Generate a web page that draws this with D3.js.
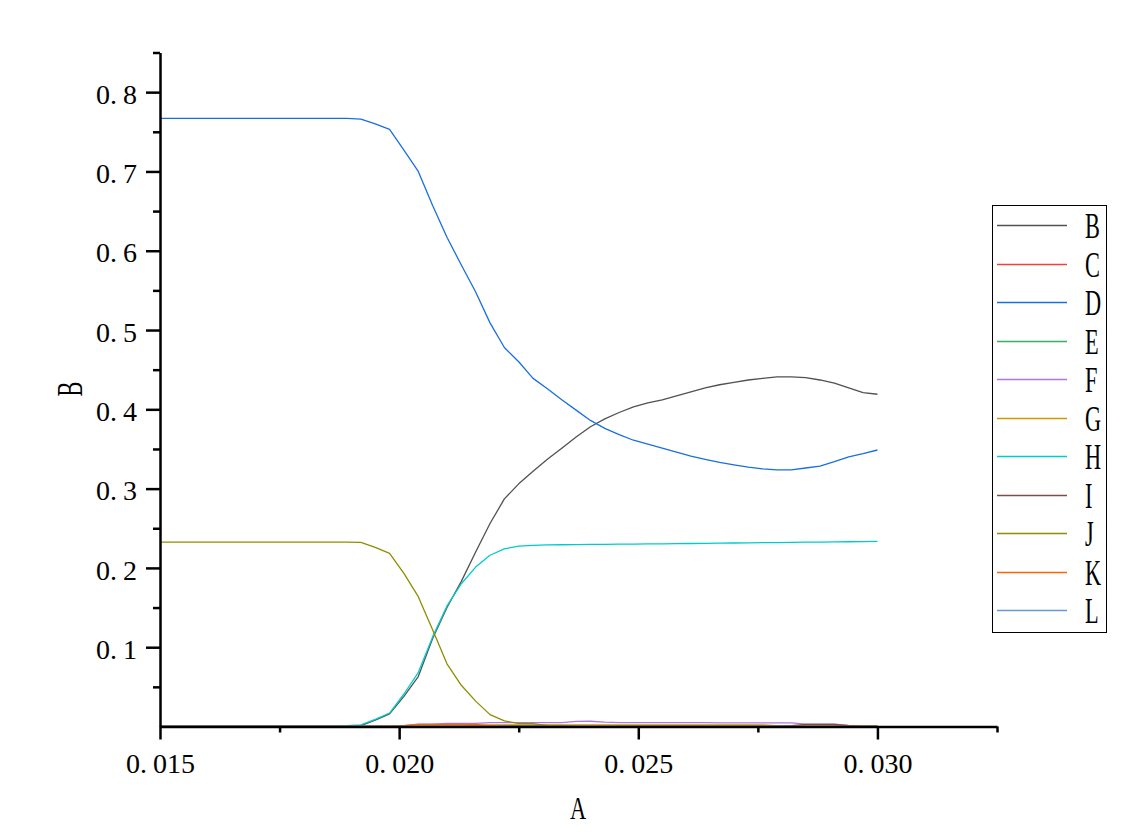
<!DOCTYPE html>
<html><head><meta charset="utf-8">
<script src="https://cdn.jsdelivr.net/npm/d3@7"></script>
<style>body{margin:0;background:#fff} svg{display:block}</style>
</head><body><svg id="c" width="1143" height="837"></svg>
<script>
// ---------------- DATA ----------------
const xValues = [0.0150,0.0153,0.0156,0.0159,0.0162,0.0165,0.0168,0.0171,0.0174,0.0177,
  0.0180,0.0183,0.0186,0.0189,0.0192,0.0195,0.0198,0.0201,0.0204,0.0207,
  0.0210,0.0213,0.0216,0.0219,0.0222,0.0225,0.0228,0.0231,0.0234,0.0237,
  0.0240,0.0243,0.0246,0.0249,0.0252,0.0255,0.0258,0.0261,0.0264,0.0267,
  0.0270,0.0273,0.0276,0.0279,0.0282,0.0285,0.0288,0.0291,0.0294,0.0297,0.0300];

const seriesNames = ["B","C","D","E","F","G","H","I","J","K","L"];
const seriesColors = ["#515151","#F14040","#1A6FDF","#37AD6B","#B177DE","#CC9900","#00CBCC","#7D4E4E","#8E8E00","#FB6501","#6699CC"];

const B = [0,0,0,0,0,0,0,0,0,0,
  0,0,0,0,0.001,0.008,0.016,0.038,0.063,0.111,
  0.150,0.183,0.220,0.256,0.287,0.306,0.322,0.337,0.351,0.365,
  0.378,0.388,0.396,0.403,0.408,0.412,0.417,0.422,0.427,0.431,
  0.434,0.437,0.439,0.441,0.441,0.440,0.437,0.433,0.427,0.421,0.419];
const C = [0,0,0,0,0,0,0,0,0,0, 0,0,0,0,0,0,0,0,0,0, 0,0,0,0,0,0,0,0,0,0,
  0,0,0,0,0,0,0,0,0,0, 0,0,0,0,0,0,0,0,0,0,0];
const D = [0.767,0.767,0.767,0.767,0.767,0.767,0.767,0.767,0.767,0.767,
  0.767,0.767,0.767,0.767,0.766,0.760,0.753,0.727,0.700,0.657,
  0.617,0.582,0.548,0.509,0.478,0.460,0.439,0.426,0.412,0.399,
  0.386,0.376,0.368,0.361,0.356,0.351,0.346,0.341,0.337,0.333,
  0.330,0.327,0.325,0.3237,0.3237,0.326,0.3285,0.334,0.340,0.344,0.3487];
const E = [0,0,0,0,0,0,0,0,0,0, 0,0,0,0,0,0,0,0,0,0,
  0,0,0,0,0.0008,0.0015,0.0015,0.0015,0.0015,0.0005,
  0,0,0,0,0,0,0,0,0,0, 0,0,0,0,0,0,0,0,0,0,0];
const F = [0,0,0,0,0,0,0,0,0,0, 0,0,0,0,0,0,0,0.001,0.003,0.003,
  0.004,0.004,0.004,0.005,0.005,0.005,0.005,0.005,0.005,0.0065,
  0.0066,0.0055,0.005,0.005,0.005,0.005,0.005,0.005,0.005,0.0045,
  0.0045,0.0045,0.0045,0.0045,0.0045,0.003,0.003,0.003,0.0015,0.0005,0];
const G = [0,0,0,0,0,0,0,0,0,0, 0,0,0,0,0,0,0,0,0,0,
  0,0,0.0015,0.002,0.002,0.002,0.002,0.002,0.002,0.002,
  0.002,0.002,0.002,0.002,0.002,0.002,0.002,0.002,0.002,0.002,
  0.002,0.002,0.002,0.001,0,0,0,0,0,0,0];
const H = [0.0005,0.0005,0.0005,0.0005,0.0005,0.0005,0.0005,0.0005,0.0005,0.0005,
  0.0005,0.0005,0.0005,0.001,0.002,0.009,0.017,0.041,0.068,0.113,
  0.152,0.180,0.201,0.216,0.224,0.2275,0.2285,0.229,0.2292,0.2294,
  0.2296,0.2298,0.230,0.230,0.2302,0.2304,0.2306,0.2308,0.231,0.2312,
  0.2314,0.2316,0.2318,0.232,0.2322,0.2324,0.2326,0.2328,0.233,0.2332,0.2334];
const I = [0,0,0,0,0,0,0,0,0,0, 0,0,0,0,0,0,0,0,0,0, 0,0,0,0,0,0,0,0,0,0,
  0,0,0,0,0,0,0,0,0,0, 0,0,0,0,0.001,0.0025,0.0025,0.0025,0.001,0,0];
const J = [0.2325,0.2325,0.2325,0.2325,0.2325,0.2325,0.2325,0.2325,0.2325,0.2325,
  0.2325,0.2325,0.2325,0.2325,0.2323,0.226,0.2184,0.193,0.1637,0.122,
  0.079,0.052,0.032,0.015,0.007,0.004,0.0035,0.001,0,0,
  0,0,0,0,0,0,0,0,0,0, 0,0,0,0,0,0,0,0,0,0,0];
const K = [0,0,0,0,0,0,0,0,0,0, 0,0,0,0,0,0,0,0.0012,0.0025,0.0025,
  0.0025,0.0025,0.0025,0.0012,0,0,0,0,0,0,
  0,0,0,0,0,0,0,0,0,0, 0,0,0,0,0,0,0,0,0,0,0];
const L = [0,0,0,0,0,0,0,0,0,0, 0,0,0,0,0,0,0,0,0,0, 0,0,0,0,0,0,0,0,0,0,
  0,0,0,0,0,0,0,0,0,0, 0,0,0,0,0,0,0,0,0,0,0];

const seriesValues = [B,C,D,E,F,G,H,I,J,K,L];

const xDomain = [0.015, 0.0325];
const yDomain = [0, 0.85];
const xTicksMajor = [0.015, 0.020, 0.025, 0.030];
const xTicksMinor = [0.0175, 0.0225, 0.0275, 0.0325];
const yTicksMajor = [0.1, 0.2, 0.3, 0.4, 0.5, 0.6, 0.7, 0.8];
const yTicksMinor = [0.05, 0.15, 0.25, 0.35, 0.45, 0.55, 0.65, 0.75, 0.85];
const xTitle = "A";
const yTitle = "B";

// ---------------- CHART ----------------
const svg = d3.select("#c");
const FONT = "'Liberation Serif','DejaVu Serif',serif";

const x = d3.scaleLinear().domain(xDomain).range([160, 997]);
const y = d3.scaleLinear().domain(yDomain).range([726.5, 52.5]);

// lines
const line = d3.line().x(d => x(d[0])).y(d => y(d[1]));
const gLines = svg.append("g");
seriesValues.forEach((vals, i) => {
  gLines.append("path")
    .datum(xValues.map((xv, j) => [xv, vals[j]]))
    .attr("fill", "none")
    .attr("stroke", seriesColors[i])
    .attr("stroke-width", 1.3)
    .attr("stroke-linejoin", "round")
    .attr("d", line);
});

function splitLabel(sel) {
  sel.each(function () {
    const t = d3.select(this);
    const s = t.text();
    const k = s.indexOf(".");
    t.text(null);
    t.append("tspan").text(s.slice(0, k));
    t.append("tspan").text(".");
    t.append("tspan").attr("dx", 6).text(s.slice(k + 1));
  });
}

// x axis minor
svg.append("g").attr("transform", "translate(0,726.5)")
  .call(d3.axisBottom(x).tickValues(xTicksMinor).tickSize(6).tickSizeOuter(0).tickFormat(""))
  .call(g => g.select(".domain").remove())
  .call(g => g.selectAll("line").attr("stroke", "#000").attr("stroke-width", 2.5));
// x axis major
svg.append("g").attr("transform", "translate(0,726.5)")
  .call(d3.axisBottom(x).tickValues(xTicksMajor).tickSize(13).tickSizeOuter(0).tickPadding(14).tickFormat(d3.format(".3f")))
  .call(g => g.select(".domain").attr("stroke", "#000").attr("stroke-width", 2.5))
  .call(g => g.selectAll("line").attr("stroke", "#000").attr("stroke-width", 2.5))
  .call(g => g.selectAll("text").attr("font-family", FONT).attr("font-size", 28).attr("fill", "#000").call(splitLabel));

// y axis minor
svg.append("g").attr("transform", "translate(160,0)")
  .call(d3.axisLeft(y).tickValues(yTicksMinor).tickSize(7).tickSizeOuter(0).tickFormat(""))
  .call(g => g.select(".domain").remove())
  .call(g => g.selectAll("line").attr("stroke", "#000").attr("stroke-width", 2.5));
// y axis major
svg.append("g").attr("transform", "translate(160,0)")
  .call(d3.axisLeft(y).tickValues(yTicksMajor).tickSize(14).tickSizeOuter(0).tickPadding(9).tickFormat(d3.format(".1f")))
  .call(g => g.select(".domain").attr("stroke", "#000").attr("stroke-width", 2.5))
  .call(g => g.selectAll("line").attr("stroke", "#000").attr("stroke-width", 2.5))
  .call(g => g.selectAll("text").attr("font-family", FONT).attr("font-size", 28).attr("fill", "#000").attr("dy", "0.4em").call(splitLabel));

// axis titles
svg.append("text")
  .attr("transform", "translate(578,819) scale(0.7,1)")
  .attr("text-anchor", "middle").attr("font-family", FONT).attr("font-size", 32)
  .text(xTitle);
svg.append("text")
  .attr("transform", "translate(82,389) rotate(-90) scale(0.62,1)")
  .attr("text-anchor", "middle").attr("font-family", FONT).attr("font-size", 36)
  .text(yTitle);

// legend
const lg = svg.append("g");
lg.append("rect").attr("x", 992.5).attr("y", 205.5).attr("width", 114).attr("height", 427)
  .attr("fill", "#fff").attr("stroke", "#000").attr("stroke-width", 1);
const rowY = d3.scaleLinear().domain([0, seriesNames.length - 1]).range([225, 610]);
seriesNames.forEach((n, i) => {
  const yy = Math.round(rowY(i)) + 0.5;
  lg.append("line").attr("x1", 997).attr("x2", 1067).attr("y1", yy).attr("y2", yy)
    .attr("stroke", seriesColors[i]).attr("stroke-width", 1.3);
  lg.append("text")
    .attr("transform", `translate(1085,${yy + 12}) scale(0.62,1)`)
    .attr("font-family", FONT).attr("font-size", 36).attr("fill", "#000")
    .text(n);
});
</script>
</body></html>
